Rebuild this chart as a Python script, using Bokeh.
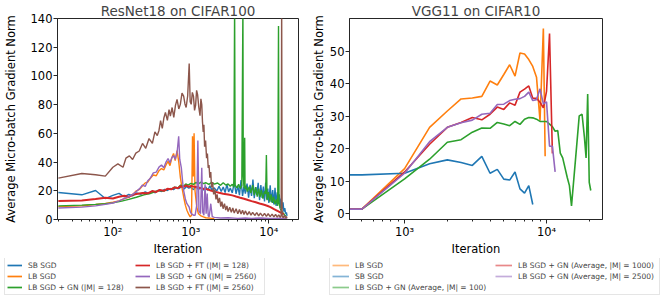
from bokeh.plotting import figure
from bokeh.layouts import row, column
from bokeh.models import Range1d, FixedTicker, CustomJSTickFormatter, Legend, LegendItem
from bokeh.embed import file_html
from bokeh.resources import INLINE

# ---------------- data: ResNet18 on CIFAR100 ----------------
resnet_sb_iter = [20, 40, 60, 80, 100, 120, 140, 160, 180, 200,
                  230, 260, 290, 320, 350, 380, 420, 460, 500, 550,
                  600, 650, 700, 760, 820, 880, 940, 1000, 1080, 1160,
                  1250, 1350, 1450, 1550, 1650, 1750, 1850, 2000, 2150, 2300,
                  2450, 2600, 2750, 2900, 3050, 3200, 3400, 3600, 3800, 4000,
                  4200, 4400, 4600, 4800, 5000, 5250, 5500, 5750, 6000, 6250,
                  6500, 6750, 7000, 7300, 7600, 7900, 8200, 8500, 8800, 9100,
                  9400, 9700, 10000, 10400, 10800, 11200, 11600, 12000, 12400, 12800,
                  13200, 13600, 14000, 14400, 14800, 15200, 15600, 16000, 16400, 16800,
                  17100]
resnet_sb_norm = [18.8, 17.2, 20.2, 14.6, 16.8, 18.2, 15.8, 17.5, 16.5, 18.5,
                  17.6, 19.2, 18.0, 19.8, 18.6, 20.4, 19.5, 21.0, 20.2, 21.6,
                  20.8, 22.4, 21.5, 22.8, 21.2, 23.0, 21.8, 22.4, 20.8, 22.6,
                  21.0, 22.2, 20.5, 22.8, 20.2, 23.5, 20.8, 22.0, 19.8, 23.2,
                  19.5, 22.6, 18.8, 24.5, 19.2, 22.0, 18.5, 26.0, 17.8, 23.5,
                  17.0, 27.5, 16.5, 22.8, 18.0, 25.0, 15.2, 24.2, 16.4, 27.8,
                  14.8, 22.5, 17.2, 25.5, 13.5, 24.0, 15.0, 23.0, 12.5, 25.8,
                  14.0, 21.5, 11.5, 23.8, 12.0, 20.5, 10.5, 22.0, 9.5, 19.0,
                  10.8, 17.5, 8.0, 14.5, 7.5, 12.0, 5.5, 8.0, 4.0, 5.0,
                  2.5]

resnet_lb_iter = [20, 40, 60, 80, 100, 120, 140, 160, 180, 200,
                  220, 240, 260, 280, 300, 330, 360, 390, 420, 450,
                  480, 510, 540, 570, 600, 630, 665, 700, 735, 770,
                  810, 850, 890, 940, 980, 1020, 1050, 1075, 1100, 1130,
                  1190, 1250, 1350, 1450, 1550, 1700, 1850, 2000]
resnet_lb_norm = [9.0, 9.6, 10.4, 11.2, 12.0, 13.0, 14.5, 15.5, 17.5, 20.0,
                  21.0, 23.5, 25.5, 26.0, 28.5, 31.0, 30.5, 34.0, 35.5, 34.5,
                  38.0, 40.5, 37.5, 43.0, 46.0, 41.0, 48.0, 40.0, 29.0, 22.0,
                  15.5, 10.0, 6.4, 3.5, 1.8, 3.0, 58.0, 30.0, 60.0, 20.0,
                  8.7, 4.0, 2.5, 1.8, 1.2, 1.0, 0.8, 0.6]

resnet_gn128_iter = [20, 40, 60, 80, 100, 130, 160, 200, 250, 300,
                     350, 400, 450, 500, 560, 620, 680, 740, 800, 860,
                     920, 1000, 1080, 1160, 1250, 1350, 1450, 1550, 1700, 1850,
                     2000, 2200, 2400, 2600, 2800, 3000, 3200, 3400, 3550, 3640,
                     3700, 3900, 4100, 4300, 4500, 4650, 4700, 4800, 4900, 4950,
                     5100, 5300, 5600, 5900, 6200, 6500, 6800, 7100, 7400, 7700,
                     8000, 8400, 8800, 9100, 9300, 9500, 9900, 10300, 10700, 11100,
                     11500, 12000, 12500, 13000, 13300, 13500, 14000, 14500, 15000, 15500,
                     16000, 16500]
resnet_gn128_norm = [9.5, 10.0, 10.5, 11.0, 11.6, 12.8, 14.0, 15.5, 17.2, 18.0,
                     19.5, 20.2, 19.8, 21.2, 21.0, 22.5, 22.0, 24.0, 23.0, 24.8,
                     24.0, 25.2, 24.5, 25.8, 24.8, 26.0, 25.0, 25.6, 24.5, 25.8,
                     24.6, 25.4, 23.8, 25.6, 24.0, 24.8, 23.2, 24.6, 22.5, 150.0,
                     24.0, 22.0, 24.5, 21.5, 23.8, 150.0, 30.0, 22.0, 57.0, 21.0,
                     23.5, 19.5, 22.8, 18.5, 24.0, 17.0, 22.5, 16.0, 21.5, 15.5,
                     20.5, 14.5, 19.5, 18.0, 45.0, 13.5, 19.0, 12.5, 17.5, 11.5,
                     16.0, 10.5, 14.0, 9.5, 134.8, 12.0, 7.5, 6.0, 5.0, 4.0,
                     3.0, 2.5]

resnet_ft128_iter = [20, 40, 60, 80, 100, 120, 140, 160, 180, 200,
                     240, 280, 320, 360, 400, 450, 500, 560, 620, 680,
                     740, 800, 870, 940, 1000, 1100, 1200, 1300, 1400, 1500,
                     1650, 1800, 2000, 2300, 2600, 3000, 3400, 3800, 4300, 4800,
                     5400, 6000, 6800, 7600, 8500, 9500, 10500, 11500, 12500, 13500,
                     14500, 15500]
resnet_ft128_norm = [12.9, 13.2, 14.2, 15.2, 14.6, 15.8, 16.5, 15.8, 17.2, 17.8,
                     18.5, 18.2, 19.8, 19.2, 20.6, 20.0, 21.4, 21.0, 22.4, 21.8,
                     23.2, 22.6, 23.8, 22.8, 23.4, 22.8, 22.6, 22.0, 21.6, 21.3,
                     21.0, 20.2, 19.4, 18.6, 18.0, 17.4, 16.8, 16.0, 15.2, 14.5,
                     13.6, 12.8, 12.0, 11.2, 10.4, 9.6, 8.6, 7.4, 6.4, 5.4,
                     4.6, 3.6]

resnet_gn2560_iter = [20, 40, 60, 80, 100, 120, 140, 160, 180, 200,
                      220, 240, 260, 280, 300, 330, 360, 390, 420, 450,
                      480, 510, 540, 570, 600, 630, 665, 698, 720, 755,
                      790, 810, 850, 890, 950, 990, 1030, 1080, 1135, 1190,
                      1230, 1270, 1330, 1380, 1420, 1470, 1520, 1570, 1620, 1670,
                      1720, 1800, 1880, 2000, 2400, 3000, 4000, 5000, 6000, 8000,
                      10000, 12000, 14000, 16000, 17000]
resnet_gn2560_norm = [8.0, 8.6, 9.5, 10.5, 11.5, 13.0, 14.5, 16.0, 17.5, 19.5,
                      21.5, 24.0, 23.0, 27.0, 28.5, 32.5, 33.0, 36.5, 38.0, 36.0,
                      40.0, 42.5, 39.5, 43.0, 44.5, 42.0, 46.5, 58.0, 42.0, 36.0,
                      24.5, 20.0, 14.3, 11.0, 8.7, 5.0, 3.7, 3.0, 3.0, 10.0,
                      55.0, 6.0, 4.0, 36.0, 5.0, 3.0, 24.5, 4.0, 18.0, 2.5,
                      2.0, 11.0, 2.0, 1.5, 1.0, 1.2, 0.8, 1.0, 0.8, 1.0,
                      0.8, 0.7, 0.9, 0.6, 0.5]

resnet_ft2560_iter = [20, 40, 60, 80, 100, 116, 135, 147, 163, 179,
                      197, 218, 240, 264, 291, 321, 346, 371, 390, 409,
                      430, 450, 472, 500, 525, 546, 575, 604, 635, 665,
                      700, 733, 770, 808, 840, 870, 910, 952, 980, 1010,
                      1045, 1080, 1115, 1150, 1185, 1220, 1265, 1310, 1345, 1380,
                      1410, 1440, 1470, 1500, 1545, 1590, 1630, 1670, 1710, 1750,
                      1800, 1840, 1900, 1960, 2030, 2100, 2170, 2240, 2330, 2420,
                      2500, 2590, 2700, 2800, 2900, 3000, 3150, 3300, 3450, 3600,
                      3800, 4000, 4200, 4400, 4600, 4800, 5000, 5300, 5600, 5900,
                      6200, 6600, 7000, 7400, 7800, 8300, 8800, 9300, 9800, 10400,
                      11000, 11600, 12200, 12800, 13400, 14000, 14400, 14600, 14800, 15300,
                      15800, 16300, 16800, 17100]
resnet_ft2560_norm = [28.8, 32.0, 31.2, 30.2, 36.4, 38.7, 36.4, 42.7, 44.3, 41.8,
                      46.2, 47.7, 53.0, 49.6, 56.4, 53.0, 61.0, 58.5, 62.0, 68.9,
                      63.5, 70.5, 74.6, 69.0, 76.5, 72.0, 78.0, 71.2, 79.5, 83.6,
                      77.0, 80.2, 88.0, 85.9, 80.5, 78.0, 86.0, 108.7, 82.0, 80.2,
                      88.5, 85.9, 76.0, 79.5, 90.0, 87.0, 78.0, 72.3, 84.0, 80.0,
                      68.0, 61.0, 66.0, 50.7, 55.0, 42.7, 46.0, 35.9, 38.0, 29.1,
                      33.0, 22.3, 26.0, 17.5, 21.0, 14.0, 17.5, 11.5, 15.0, 9.0,
                      12.5, 7.5, 11.0, 6.5, 9.5, 5.5, 8.5, 5.0, 8.0, 4.5,
                      7.5, 4.0, 7.0, 3.8, 6.5, 3.5, 6.0, 3.2, 5.5, 3.0,
                      5.0, 2.8, 4.8, 2.6, 4.5, 2.4, 4.2, 2.2, 4.0, 2.0,
                      3.8, 1.8, 3.5, 1.6, 3.2, 1.5, 3.0, 150.0, 2.5, 1.2,
                      3.0, 1.0, 2.2, 0.8]

resnet_labels = ["SB SGD", "LB SGD", "LB SGD + GN (|M| = 128)",
                 "LB SGD + FT (|M| = 128)", "LB SGD + GN (|M| = 2560)", "LB SGD + FT (|M| = 2560)"]

# ---------------- data: VGG11 on CIFAR10 ----------------
vgg_lb_iter = [1, 500, 1000, 1500, 2000, 2500, 3000, 3500, 4000, 4500,
               5000, 5500, 6000, 6500, 7000, 7500, 8000, 8500, 9000, 9500, 9780]
vgg_lb_norm = [1.5, 1.5, 13.9, 26.6, 31.6, 35.3, 35.6, 36.1, 40.8, 39.6,
               42.8, 45.8, 42.3, 49.4, 49.1, 47.4, 45.3, 42.0, 28.6, 56.9, 17.7]

vgg_sb_iter = [1, 500, 1000, 1500, 2000, 2500, 3000, 3500, 4000, 4500,
               5000, 5500, 6000, 6500, 7000, 7500, 8000]
vgg_sb_norm = [12.0, 12.0, 12.5, 15.4, 16.6, 15.8, 14.9, 17.7, 12.5, 13.7,
               10.7, 10.4, 12.9, 7.7, 6.4, 8.7, 2.9]

vgg_gn100_iter = [1, 500, 1000, 1500, 2000, 2500, 3000, 3500, 4000, 4500,
                  5000, 5500, 6000, 6500, 7000, 7500, 8000, 8500, 9000, 9500,
                  10000, 10500, 11000, 11500, 12000, 12500, 13000, 14000, 14500, 15000,
                  16000, 17000, 17800, 18500, 19000, 19500, 20000, 20500]
vgg_gn100_norm = [1.5, 1.5, 10.8, 16.8, 22.0, 22.8, 25.1, 26.4, 26.3, 28.1,
                  27.6, 27.1, 28.4, 27.5, 29.1, 29.6, 29.5, 29.1, 28.4, 28.4,
                  28.4, 27.6, 26.8, 25.4, 25.6, 18.7, 17.2, 11.2, 8.7, 2.5,
                  16.7, 30.1, 30.6, 23.5, 17.2, 36.8, 9.7, 7.2]

vgg_gn1000_iter = [1, 500, 1000, 1500, 2000, 2500, 3000, 3500, 4000, 4500,
                   5000, 5500, 6000, 6500, 7000, 7500, 8000, 8500, 9000, 9500,
                   10000, 10500, 11000]
vgg_gn1000_norm = [1.5, 1.5, 12.9, 21.4, 26.6, 28.1, 29.6, 28.9, 30.6, 32.8,
                   32.1, 34.1, 33.4, 37.4, 38.3, 39.3, 35.5, 35.5, 34.3, 32.6,
                   37.6, 55.4, 18.6]

vgg_gn2500_iter = [1, 500, 1000, 1500, 2000, 2500, 3000, 3500, 4000, 4500,
                   5000, 5500, 6000, 6500, 7000, 7500, 8000, 8500, 9000, 9500,
                   10000, 10500, 11000, 11500]
vgg_gn2500_norm = [1.5, 1.5, 12.5, 22.2, 26.6, 28.0, 28.8, 30.6, 30.9, 33.6,
                   33.7, 34.8, 35.2, 35.4, 36.1, 37.4, 34.8, 35.1, 38.4, 33.8,
                   34.4, 20.8, 20.8, 12.9]

vgg_labels = ["LB SGD", "SB SGD", "LB SGD + GN (Average, |M| = 100)",
              "LB SGD + GN (Average, |M| = 1000)", "LB SGD + GN (Average, |M| = 2500)"]

resnet_yticks = [0, 20, 40, 60, 80, 100, 120, 140]
vgg_yticks = [0, 10, 20, 30, 40, 50]
x_major = [100, 1000, 10000]

# ---------------- styling ----------------
FONT = "DejaVu Sans"
BLUE, ORANGE, GREEN, RED, PURPLE, BROWN = "#1f77b4", "#ff7f0e", "#2ca02c", "#d62728", "#9467bd", "#8c564b"
SPINE = "#262626"
TOP_H, LEG_H = 258, 40
LEFT_W, RIGHT_W = 308, 356

sup_fmt = CustomJSTickFormatter(code="""
const e = Math.round(Math.log10(tick));
const s = {"0":"\u2070","1":"\u00b9","2":"\u00b2","3":"\u00b3","4":"\u2074","5":"\u2075","-":"\u207b"};
return "10" + String(e).split("").map(c => s[c]).join("");
""")


def make_fig(width, title, xr, yr, yticks, bl, br, ylab_standoff):
    p = figure(width=width, height=TOP_H, x_axis_type="log", output_backend="svg",
               toolbar_location=None, x_range=Range1d(*xr), y_range=Range1d(*yr),
               min_border_left=bl, min_border_right=br, min_border_top=17, min_border_bottom=35,
               title=title)
    p.title.text_font = FONT
    p.title.text_font_size = "13.5px"
    p.title.text_font_style = "normal"
    p.title.align = "center"
    p.title.standoff = 0
    p.xgrid.grid_line_color = None
    p.ygrid.grid_line_color = None
    p.outline_line_color = SPINE
    p.outline_line_width = 1
    p.outline_line_alpha = 1
    p.xaxis.ticker = FixedTicker(ticks=x_major,
                                 minor_ticks=[m * 10 ** k for k in (1, 2, 3, 4) for m in range(2, 10)])
    p.xaxis.formatter = sup_fmt
    p.yaxis.ticker = FixedTicker(ticks=yticks, minor_ticks=[])
    p.xaxis.axis_label = "Iteration"
    p.yaxis.axis_label = "Average Micro-batch Gradient Norm"
    for ax in (p.xaxis[0], p.yaxis[0]):
        ax.axis_label_text_font = FONT
        ax.axis_label_text_font_size = "11.5px"
        ax.axis_label_text_font_style = "normal"
        ax.axis_label_text_color = "black"
        ax.major_label_text_font = FONT
        ax.major_label_text_font_size = "11.5px"
        ax.major_label_text_color = "black"
        ax.major_tick_in = 0
        ax.major_tick_out = 4
        ax.minor_tick_in = 0
        ax.minor_tick_out = 2
        ax.axis_line_color = SPINE
        ax.major_tick_line_color = SPINE
        ax.minor_tick_line_color = SPINE
        ax.major_label_standoff = 1
        ax.axis_label_standoff = 0
    p.yaxis[0].axis_label_standoff = ylab_standoff
    return p


def make_legend_fig(width, labels, colors, x_off, glyph_w, label_w, alpha):
    q = figure(width=width, height=LEG_H, output_backend="svg", toolbar_location=None,
               x_range=Range1d(0, 1), y_range=Range1d(0, 1), min_border=0,
               x_axis_location=None, y_axis_location=None)
    q.outline_line_color = None
    q.grid.visible = False
    # legend-only handles: a single undefined (NaN) point, so nothing is drawn in the frame
    rends = [q.line([float("nan")], [float("nan")], line_color=c, line_width=1.7, line_alpha=alpha)
             for c in colors]
    leg = Legend(items=[LegendItem(label=l, renderers=[r]) for l, r in zip(labels, rends)],
                 location=(x_off, 3), ncols=2, margin=0, padding=2, spacing=1,
                 glyph_width=glyph_w, glyph_height=10, label_height=10, label_width=label_w,
                 label_standoff=6, label_text_font=FONT, label_text_font_size="7.5px",
                 border_line_color="#cccccc", border_line_width=1,
                 background_fill_color="white", background_fill_alpha=1)
    q.add_layout(leg)
    return q


# ---------------- left: ResNet18 ----------------
p1 = make_fig(LEFT_W, "ResNet18 on CIFAR100", (19.5, 24000), (0, 140), resnet_yticks, 54, 10, 10)
series1 = [(resnet_sb_iter, resnet_sb_norm, BLUE, 1.4),
           (resnet_lb_iter, resnet_lb_norm, ORANGE, 1.4),
           (resnet_gn128_iter, resnet_gn128_norm, GREEN, 1.4),
           (resnet_ft128_iter, resnet_ft128_norm, RED, 2.0),
           (resnet_gn2560_iter, resnet_gn2560_norm, PURPLE, 1.4),
           (resnet_ft2560_iter, resnet_ft2560_norm, BROWN, 1.4)]
r1 = [p1.line(x, y, line_color=c, line_width=w) for x, y, c, w in series1]
l1 = make_legend_fig(LEFT_W, resnet_labels, [s[2] for s in series1], 4, 15, 106, 1.0)

# ---------------- right: VGG11 ----------------
p2 = make_fig(RIGHT_W, "VGG11 on CIFAR10", (409, 24800), (-1.7, 60.0), vgg_yticks, 40, 62, 1)
series2 = [(vgg_lb_iter, vgg_lb_norm, ORANGE),
           (vgg_sb_iter, vgg_sb_norm, BLUE),
           (vgg_gn100_iter, vgg_gn100_norm, GREEN),
           (vgg_gn1000_iter, vgg_gn1000_norm, RED),
           (vgg_gn2500_iter, vgg_gn2500_norm, PURPLE)]
r2 = [p2.line(x, y, line_color=c, line_width=1.6) for x, y, c in series2]
l2 = make_legend_fig(RIGHT_W, vgg_labels, [s[2] for s in series2], 21, 17, 139, 0.55)

layout = column(row(p1, p2), row(l1, l2))
open("out.html", "w").write(file_html(layout, INLINE))
